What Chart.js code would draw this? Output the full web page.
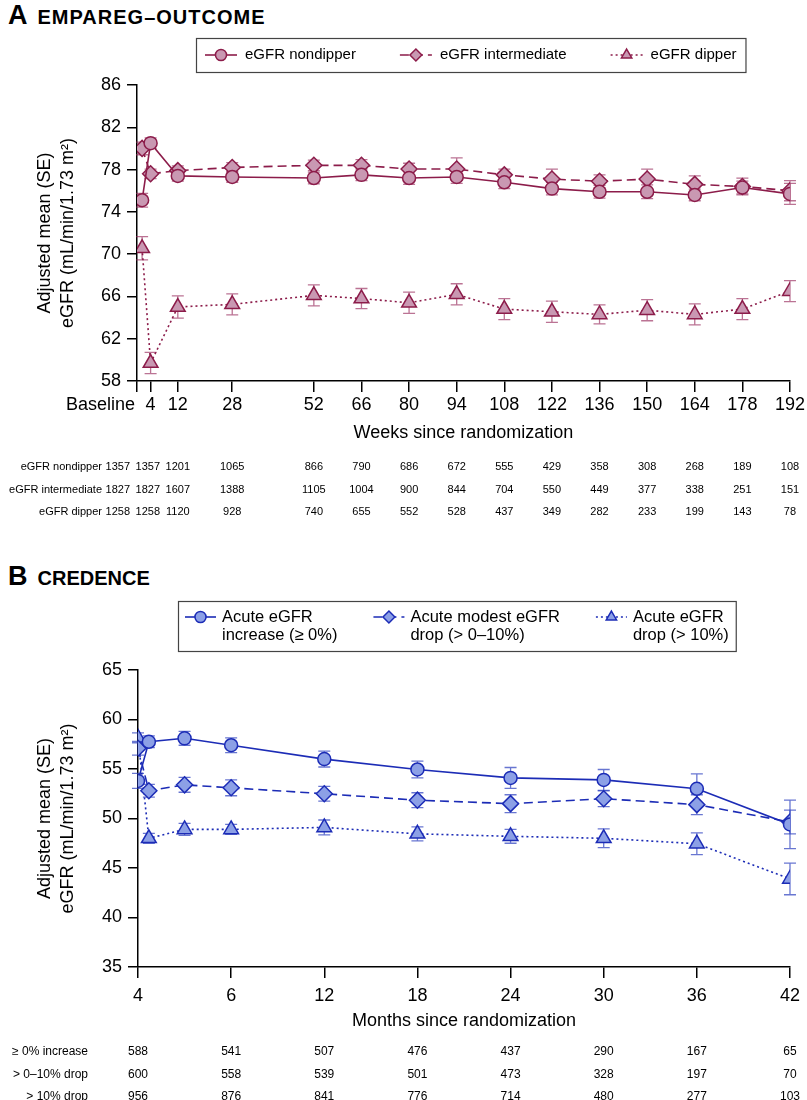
<!DOCTYPE html>
<html>
<head>
<meta charset="utf-8">
<script src="https://cdn.jsdelivr.net/npm/chart.js@4.4.1/dist/chart.umd.min.js"></script>
<style>
  html, body { margin: 0; padding: 0; background: #fff; }
  body { width: 807px; height: 1100px; position: relative; overflow: hidden; font-family: "Liberation Sans", Arial, sans-serif; }
  .panel-title { position: absolute; left: 8px; font-weight: bold; color: #000; white-space: nowrap; line-height: 30px; }
  .panel-title .letter { font-size: 27px; }
  .panel-title .name { font-size: 20px; margin-left: 10px; }
  canvas { position: absolute; left: 0; }
</style>
</head>
<body>
<div class="panel-title" style="top:0px"><span class="letter">A</span><span class="name" style="letter-spacing:1px">EMPAREG–OUTCOME</span></div>
<canvas id="chartA" width="807" height="540" style="top:0px"></canvas>
<div class="panel-title" style="top:561px"><span class="letter">B</span><span class="name">CREDENCE</span></div>
<canvas id="chartB" width="807" height="560" style="top:540px"></canvas>
<script>
// --- Panel A: EMPA-REG OUTCOME (weeks) ---
const weekTicks = [0, 4, 12, 28, 52, 66, 80, 94, 108, 122, 136, 150, 164, 178, 192];
const weekLabels = ['Baseline', '4', '12', '28', '52', '66', '80', '94', '108', '122', '136', '150', '164', '178', '192'];
const weeksA = [1.5, 4, 12, 28, 52, 66, 80, 94, 108, 122, 136, 150, 164, 178, 192];

const nondipper = [75.1, 80.5, 77.4, 77.3, 77.2, 77.5, 77.2, 77.3, 76.8, 76.2, 75.9, 75.9, 75.6, 76.3, 75.7];
const seNondipper = [0.65, 0.5, 0.5, 0.5, 0.55, 0.55, 0.6, 0.6, 0.6, 0.6, 0.6, 0.65, 0.55, 0.6, 1.0];
const intermediate = [80.0, 77.6, 77.9, 78.2, 78.4, 78.4, 78.05, 78.05, 77.5, 77.1, 76.9, 77.1, 76.6, 76.4, 76.0];
const seIntermediate = [0.6, 0.45, 0.45, 0.45, 0.5, 0.55, 0.55, 1.05, 0.55, 0.95, 0.6, 0.95, 0.8, 0.8, 0.95];
const dipper = [70.55, 59.7, 65.0, 65.25, 66.1, 65.8, 65.4, 66.2, 64.8, 64.55, 64.3, 64.7, 64.3, 64.8, 66.5];
const seDipper = [1.1, 1.0, 1.05, 1.0, 1.0, 0.95, 1.0, 1.0, 1.0, 1.0, 0.9, 1.0, 1.0, 1.0, 1.0];

const riskLabelsA = ['eGFR nondipper', 'eGFR intermediate', 'eGFR dipper'];
const riskNondipper = [1357, 1357, 1201, 1065, 866, 790, 686, 672, 555, 429, 358, 308, 268, 189, 108];
const riskIntermediate = [1827, 1827, 1607, 1388, 1105, 1004, 900, 844, 704, 550, 449, 377, 338, 251, 151];
const riskDipper = [1258, 1258, 1120, 928, 740, 655, 552, 528, 437, 349, 282, 233, 199, 143, 78];

// --- Panel B: CREDENCE (months) ---
const monthTicks = [0, 6, 12, 18, 24, 30, 36, 42];
const monthLabels = ['4', '6', '12', '18', '24', '30', '36', '42'];
const monthsB = [0, 0.7, 3, 6, 12, 18, 24, 30, 36, 42];

const increase = [53.8, 57.75, 58.1, 57.4, 56.0, 54.95, 54.1, 53.9, 53.0, 49.4];
const seIncrease = [0.75, 0.6, 0.7, 0.75, 0.8, 0.85, 1.05, 1.05, 1.5, 2.45];
const modestDrop = [57.1, 52.8, 53.4, 53.1, 52.5, 51.85, 51.5, 52.0, 51.4, 49.65];
const seModestDrop = [0.7, 0.65, 0.75, 0.8, 0.75, 0.75, 0.9, 0.8, 1.0, 1.2];
const bigDrop = [58.15, 48.0, 48.9, 48.9, 49.1, 48.45, 48.2, 48.0, 47.45, 43.9];
const seBigDrop = [0.5, 0.5, 0.6, 0.5, 0.75, 0.7, 0.7, 0.95, 1.1, 1.6];

const riskLabelsB = ['\u2265 0% increase', '> 0\u201310% drop', '> 10% drop'];
const riskIncrease = [588, 541, 507, 476, 437, 290, 167, 65];
const riskModestDrop = [600, 558, 539, 501, 473, 328, 197, 70];
const riskBigDrop = [956, 876, 841, 776, 714, 480, 277, 103];

// --- Styles ---
const FONT = '"Liberation Sans", Arial, sans-serif';
const NARROW = '"Liberation Sans Narrow", "Arial Narrow", "Liberation Sans", Arial, sans-serif';
const maroon = 'rgb(140,28,74)';
const maroonFill = 'rgb(201,152,178)';
const maroonErr = 'rgba(150,40,90,0.65)';
const blue = 'rgb(28,44,182)';
const blueFill = 'rgb(140,160,230)';
const blueErr = 'rgba(40,60,190,0.7)';

function xy(xs, ys) { return xs.map((x, i) => ({ x: x, y: ys[i] })); }

// vertical SE bars with caps, drawn under the markers
const errorBarPlugin = {
    id: 'errorBars',
    beforeDatasetsDraw(chart) {
        const ctx = chart.ctx;
        const yScale = chart.scales.y;
        chart.data.datasets.forEach((ds, i) => {
            const meta = chart.getDatasetMeta(i);
            ctx.save();
            ctx.strokeStyle = ds.errorColor;
            ctx.lineWidth = 1.3;
            meta.data.forEach((pt, j) => {
                const v = ds.data[j].y, e = ds.errors[j];
                const top = yScale.getPixelForValue(v + e);
                const bottom = yScale.getPixelForValue(v - e);
                ctx.beginPath();
                ctx.moveTo(pt.x, top); ctx.lineTo(pt.x, bottom);
                ctx.moveTo(pt.x - 6, top); ctx.lineTo(pt.x + 6, top);
                ctx.moveTo(pt.x - 6, bottom); ctx.lineTo(pt.x + 6, bottom);
                ctx.stroke();
            });
            ctx.restore();
        });
    }
};

function drawMarker(ctx, style, x, y, r) {
    ctx.beginPath();
    if (style === 'circle') {
        ctx.arc(x, y, r, 0, Math.PI * 2);
    } else if (style === 'rectRot') {
        ctx.moveTo(x, y - r); ctx.lineTo(x + r, y); ctx.lineTo(x, y + r); ctx.lineTo(x - r, y);
        ctx.closePath();
    } else {
        const h = r * 1.5;
        ctx.moveTo(x, y - r); ctx.lineTo(x + r * 0.87, y + h - r); ctx.lineTo(x - r * 0.87, y + h - r);
        ctx.closePath();
    }
    ctx.fill();
    ctx.stroke();
}

// boxed legend with line + marker samples
const boxLegendPlugin = {
    id: 'boxLegend',
    afterDraw(chart, args, opts) {
        const ctx = chart.ctx;
        ctx.save();
        ctx.font = opts.fontSize + 'px ' + FONT;
        const items = chart.data.datasets.map(ds => {
            const lines = ds.label.split('\n');
            return { ds: ds, lines: lines, w: Math.max(...lines.map(l => ctx.measureText(l).width)) };
        });
        const nLines = Math.max(...items.map(it => it.lines.length));
        let x = opts.x + opts.padX;
        const sy = opts.y + opts.padY + opts.lineHeight / 2;
        items.forEach((it, k) => {
            const ds = it.ds;
            ctx.strokeStyle = ds.borderColor;
            ctx.lineWidth = ds.borderWidth;
            ctx.setLineDash(ds.borderDash || []);
            ctx.beginPath();
            ctx.moveTo(x, sy); ctx.lineTo(x + opts.sampleW, sy);
            ctx.stroke();
            ctx.setLineDash([]);
            ctx.fillStyle = ds.pointBackgroundColor;
            ctx.lineWidth = ds.pointBorderWidth;
            drawMarker(ctx, ds.pointStyle, x + opts.sampleW / 2, sy, Math.min(ds.pointRadius, 7) * 0.85);
            ctx.fillStyle = '#000';
            ctx.textAlign = 'left';
            ctx.textBaseline = 'middle';
            const tx = x + opts.sampleW + opts.textGap;
            it.lines.forEach((l, li) => ctx.fillText(l, tx, sy + li * opts.lineHeight));
            x = tx + it.w + (k < items.length - 1 ? opts.itemGap : opts.padX);
        });
        const h = nLines * opts.lineHeight + opts.padY * 2;
        ctx.strokeStyle = '#444';
        ctx.lineWidth = 1.2;
        ctx.strokeRect(opts.x + 0.5, opts.y + 0.5, x - opts.x, h);
        ctx.restore();
    }
};

// number-at-risk rows under the x axis
const riskTablePlugin = {
    id: 'riskTable',
    afterDraw(chart, args, opts) {
        const ctx = chart.ctx;
        const xs = chart.scales.x;
        let px = opts.at.map(v => xs.getPixelForValue(v));
        // spread crowded early columns to the left
        for (let i = px.length - 2; i >= 0; i--) {
            if (px[i + 1] - px[i] < opts.minGap) px[i] = px[i + 1] - opts.minGap;
        }
        ctx.save();
        ctx.font = opts.fontSize + 'px ' + NARROW;
        ctx.fillStyle = '#000';
        ctx.textBaseline = 'middle';
        opts.rows.forEach((row, r) => {
            const y = opts.rowY[r];
            ctx.textAlign = 'right';
            ctx.fillText(row.label, opts.labelRight, y);
            ctx.textAlign = 'center';
            row.values.forEach((v, i) => ctx.fillText(String(v), px[i], y));
        });
        ctx.restore();
    }
};

// first x tick label drawn right-aligned against its tick
const firstTickPlugin = {
    id: 'firstTick',
    afterDraw(chart, args, opts) {
        if (!opts.text) return;
        const xs = chart.scales.x;
        const ctx = chart.ctx;
        const size = xs.options.ticks.font.size;
        const y = xs.top + xs.options.grid.tickLength + xs.options.ticks.padding + size * 0.6;
        ctx.save();
        ctx.font = size + 'px ' + FONT;
        ctx.fillStyle = '#000';
        ctx.textAlign = 'right';
        ctx.textBaseline = 'middle';
        ctx.fillText(opts.text, xs.getPixelForValue(opts.value) - 2, y);
        ctx.restore();
    }
};

function axisBase(tickLen, pad) {
    return {
        border: { color: '#000', width: 1.5 },
        grid: { drawOnChartArea: false, drawTicks: true, tickLength: tickLen, color: '#000', lineWidth: 1.5 },
        ticks: { color: '#000', padding: pad, font: { size: 18, family: FONT } }
    };
}

function yTitle() {
    return {
        display: true, color: '#000',
        text: ['Adjusted mean (SE)', 'eGFR (mL/min/1.73 m\u00b2)'],
        font: { size: 18, family: FONT, lineHeight: 1.25 },
        padding: { top: 34, bottom: 0 }
    };
}

function series(label, data, errors, style, dash, color, fill, err, radius) {
    return {
        label: label, data: data, errors: errors, errorColor: err,
        borderColor: color, backgroundColor: fill, borderWidth: 1.6, borderDash: dash,
        pointStyle: style, pointRadius: radius, pointBackgroundColor: fill,
        pointBorderColor: color, pointBorderWidth: 1.5, fill: false, tension: 0
    };
}

const baseA = axisBase(11, 2);
const baseAy = axisBase(10, 6);
new Chart(document.getElementById('chartA'), {
    type: 'line',
    data: {
        datasets: [
            series('eGFR nondipper', xy(weeksA, nondipper), seNondipper, 'circle', [], maroon, maroonFill, maroonErr, 6.5),
            series('eGFR intermediate', xy(weeksA, intermediate), seIntermediate, 'rectRot', [9, 5], maroon, maroonFill, maroonErr, 8),
            series('eGFR dipper', xy(weeksA, dipper), seDipper, 'triangle', [2, 3], maroon, maroonFill, maroonErr, 8.5)
        ]
    },
    options: {
        responsive: false,
        animation: false,
        layout: { padding: { left: 0, right: 15, top: 85, bottom: 92 } },
        plugins: {
            legend: { display: false },
            tooltip: { enabled: false },
            boxLegend: { x: 196, y: 38, padX: 9, padY: 7, sampleW: 32, textGap: 8, itemGap: 44, lineHeight: 20, fontSize: 15 },
            riskTable: {
                at: weekTicks, minGap: 30, labelRight: 102, fontSize: 11, rowY: [467, 490, 512],
                rows: [
                    { label: riskLabelsA[0], values: riskNondipper },
                    { label: riskLabelsA[1], values: riskIntermediate },
                    { label: riskLabelsA[2], values: riskDipper }
                ]
            },
            firstTick: { text: weekLabels[0], value: weekTicks[0] }
        },
        scales: {
            x: {
                type: 'linear', min: 0, max: 192,
                afterBuildTicks: s => { s.ticks = weekTicks.map(v => ({ value: v })); },
                afterFit: s => { s.height = 67; },
                border: baseA.border, grid: baseA.grid,
                ticks: Object.assign({}, baseA.ticks, { autoSkip: false, maxRotation: 0, callback: (v, i) => i === 0 ? '' : weekLabels[i] }),
                title: { display: true, text: 'Weeks since randomization', color: '#000', font: { size: 18, family: FONT }, padding: { top: 4, bottom: 4 } }
            },
            y: {
                min: 58, max: 86,
                afterFit: s => { s.width = 137; },
                border: baseAy.border, grid: baseAy.grid,
                ticks: Object.assign({}, baseAy.ticks, { stepSize: 4 }),
                title: yTitle()
            }
        }
    },
    plugins: [errorBarPlugin, boxLegendPlugin, riskTablePlugin, firstTickPlugin]
});

const baseB = axisBase(11, 7);
const baseBy = axisBase(10, 6);
new Chart(document.getElementById('chartB'), {
    type: 'line',
    data: {
        datasets: [
            series('Acute eGFR\nincrease (\u2265 0%)', xy(monthsB, increase), seIncrease, 'circle', [], blue, blueFill, blueErr, 6.5),
            series('Acute modest eGFR\ndrop (> 0\u201310%)', xy(monthsB, modestDrop), seModestDrop, 'rectRot', [9, 5], blue, blueFill, blueErr, 8),
            series('Acute eGFR\ndrop (> 10%)', xy(monthsB, bigDrop), seBigDrop, 'triangle', [2, 3], blue, blueFill, blueErr, 8.5)
        ]
    },
    options: {
        responsive: false,
        animation: false,
        layout: { padding: { left: 0, right: 15, top: 130, bottom: 64 } },
        plugins: {
            legend: { display: false },
            tooltip: { enabled: false },
            boxLegend: { x: 178, y: 61, padX: 7, padY: 7, sampleW: 31, textGap: 6, itemGap: 36, lineHeight: 18, fontSize: 16.5 },
            riskTable: {
                at: monthTicks, minGap: 20, labelRight: 88, fontSize: 12, rowY: [512, 535, 557],
                rows: [
                    { label: riskLabelsB[0], values: riskIncrease },
                    { label: riskLabelsB[1], values: riskModestDrop },
                    { label: riskLabelsB[2], values: riskBigDrop }
                ]
            },
            firstTick: { text: '' }
        },
        scales: {
            x: {
                type: 'linear', min: 0, max: 42,
                afterBuildTicks: s => { s.ticks = monthTicks.map(v => ({ value: v })); },
                afterFit: s => { s.height = 69; },
                border: baseB.border, grid: baseB.grid,
                ticks: Object.assign({}, baseB.ticks, { autoSkip: false, maxRotation: 0, callback: (v, i) => monthLabels[i] }),
                title: { display: true, text: 'Months since randomization', color: '#000', font: { size: 18, family: FONT }, padding: { top: 4, bottom: 4 } }
            },
            y: {
                min: 35, max: 65,
                afterFit: s => { s.width = 138; },
                border: baseBy.border, grid: baseBy.grid,
                ticks: Object.assign({}, baseBy.ticks, { stepSize: 5 }),
                title: yTitle()
            }
        }
    },
    plugins: [errorBarPlugin, boxLegendPlugin, riskTablePlugin, firstTickPlugin]
});
</script>
</body>
</html>
